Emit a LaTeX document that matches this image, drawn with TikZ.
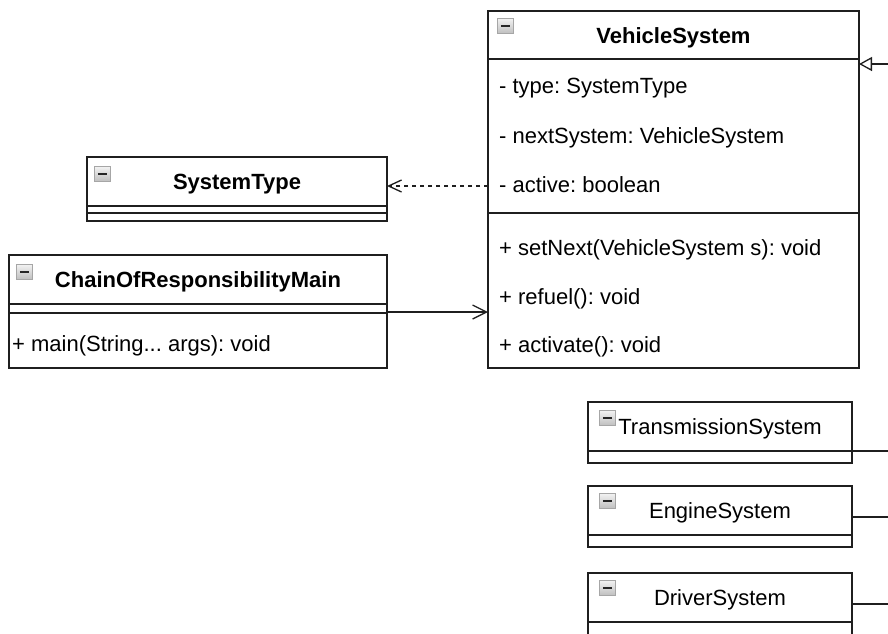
\documentclass[tikz,border=0pt]{standalone}
\usepackage{xcolor}
\usepackage{fontspec}
\setmainfont{Liberation Sans}
\usepackage{tikz}
\usetikzlibrary{arrows.meta, positioning, calc}

\definecolor{umlline}{HTML}{1F1F1F}
\frenchspacing

\tikzset{
  classhead/.style={draw=umlline, line width=1.4pt, inner sep=0pt, outer sep=0pt, anchor=north west,
    font=\fontsize{22}{26}\selectfont, text height=20pt, text depth=4pt},
  classpart/.style={draw=umlline, line width=1.4pt, inner sep=0pt, outer sep=0pt, below=0pt of #1},
  member/.style={anchor=base west, inner sep=0pt, font=\fontsize{22}{26}\selectfont},
  icon/.style={draw=gray!70, top color=gray!10, bottom color=gray!50, line width=0.8pt,
    minimum width=16pt, minimum height=15pt, inner sep=0pt, anchor=north west,
    path picture={\draw[line width=1.8pt, black!85]
      ([xshift=3.5pt]path picture bounding box.west) -- ([xshift=-3.5pt]path picture bounding box.east);}},
  depend/.style={draw=umlline, line width=1.3pt, dash pattern=on 4pt off 4pt,
    -{Straight Barb[length=13pt, width=12pt]}},
  assoc/.style={draw=umlline, line width=1.3pt, -{Straight Barb[length=14pt, width=14pt]}},
  inherit/.style={draw=umlline, line width=1.3pt, -{Triangle[open, fill=white, length=13pt, width=14pt]}},
  link/.style={draw=umlline, line width=1.3pt}
}

\begin{document}
\begin{tikzpicture}[x=1pt, y=-1pt]
  \useasboundingbox (0,0) rectangle (888,633);

  % VehicleSystem
  \node[classhead, minimum width=371pt, minimum height=48pt] (vsHead) at (488,11) {\bfseries VehicleSystem};
  \node[classpart=vsHead, minimum width=371pt, minimum height=154pt] (vsAttr) {};
  \node[classpart=vsAttr, minimum width=371pt, minimum height=155pt] (vsMeth) {};
  \node[icon] (vsIcon) at (497,18) {};
  \node[member] (vsType) at (499,93) {- type: SystemType};
  \node[member] (vsNext) at (499,143) {- nextSystem: VehicleSystem};
  \node[member] (vsActive) at (499,192) {- active: boolean};
  \node[member] (vsSetNext) at (499,255) {+ setNext(VehicleSystem s): void};
  \node[member] (vsRefuel) at (499,304) {+ refuel(): void};
  \node[member] (vsActivate) at (499,352) {+ activate(): void};

  % SystemType
  \node[classhead, minimum width=300pt, minimum height=49pt] (stHead) at (87,157) {\bfseries SystemType};
  \node[classpart=stHead, minimum width=300pt, minimum height=7pt] (stAttr) {};
  \node[classpart=stAttr, minimum width=300pt, minimum height=8pt] (stMeth) {};
  \node[icon] (stIcon) at (94,166) {};

  % ChainOfResponsibilityMain
  \node[classhead, minimum width=378pt, minimum height=49pt] (mainHead) at (9,255) {\bfseries ChainOfResponsibilityMain};
  \node[classpart=mainHead, minimum width=378pt, minimum height=9pt] (mainAttr) {};
  \node[classpart=mainAttr, minimum width=378pt, minimum height=55pt] (mainMeth) {};
  \node[icon] (mainIcon) at (16,264) {};
  \node[member] (mainMain) at (12,351) {+ main(String... args): void};

  % TransmissionSystem
  \node[classhead, minimum width=264pt, minimum height=49pt] (transHead) at (588,402) {TransmissionSystem};
  \node[classpart=transHead, minimum width=264pt, minimum height=12pt] (transBody) {};
  \node[icon] (transIcon) at (599,410) {};

  % EngineSystem
  \node[classhead, minimum width=264pt, minimum height=49pt] (engHead) at (588,486) {EngineSystem};
  \node[classpart=engHead, minimum width=264pt, minimum height=12pt] (engBody) {};
  \node[icon] (engIcon) at (599,493) {};

  % DriverSystem
  \node[classhead, minimum width=264pt, minimum height=49pt] (drvHead) at (588,573) {DriverSystem};
  \node[classpart=drvHead, minimum width=264pt, minimum height=30pt] (drvBody) {};
  \node[icon] (drvIcon) at (599,580) {};

  % Connectors
  \coordinate (depY) at (0,186);
  \coordinate (assocY) at (0,312);
  \coordinate (genEnd) at (888,64);
  \coordinate (transEnd) at (888,451);
  \coordinate (engEnd) at (888,517);
  \coordinate (drvEnd) at (888,604);
  \draw[depend] (vsAttr.west |- depY) -- (stHead.east |- depY);
  \draw[assoc] (mainAttr.east |- assocY) -- (vsMeth.west |- assocY);
  \draw[inherit] (genEnd) -- (vsAttr.east |- genEnd);
  \draw[link] (transHead.east |- transEnd) -- (transEnd);
  \draw[link] (engHead.east |- engEnd) -- (engEnd);
  \draw[link] (drvHead.east |- drvEnd) -- (drvEnd);
\end{tikzpicture}
\end{document}
